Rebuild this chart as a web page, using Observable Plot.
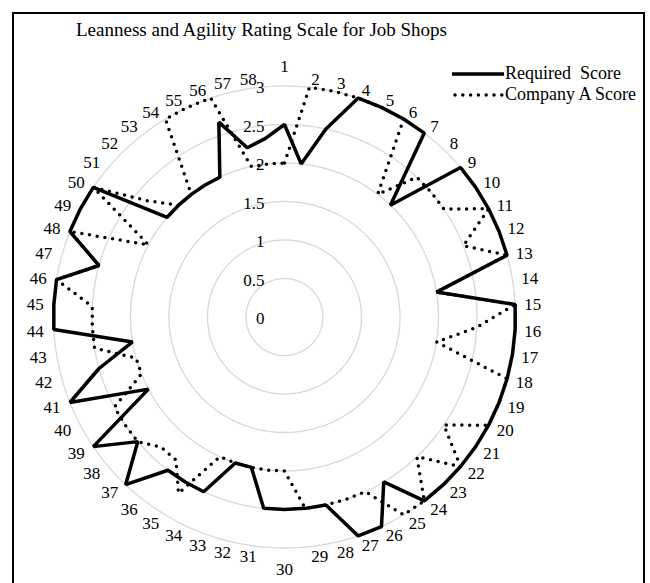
<!DOCTYPE html>
<html>
<head>
<meta charset="utf-8">
<script src="https://cdn.jsdelivr.net/npm/d3@7"></script>
<script src="https://cdn.jsdelivr.net/npm/@observablehq/plot@0.6"></script>
<style>
  html, body { margin: 0; padding: 0; background: #fff; }
  body { font-family: "Liberation Serif", "Times New Roman", serif; color: #000; }
  #wrap { position: relative; width: 650px; height: 583px; overflow: hidden; }
  #frame { position: absolute; left: 12px; top: 12px; width: 633px; height: 620px; border: 2.5px solid #000; box-sizing: border-box; }
  #title { position: absolute; left: 76px; top: 20px; font-size: 19px; line-height: 20px; white-space: nowrap; }
  #legend { position: absolute; left: 452px; top: 63px; font-size: 18px; line-height: 21px; }
  .row { display: flex; align-items: center; height: 21px; white-space: pre; }
  .row svg { width: 52px; height: 8px; margin-right: 1px; }
  #chart { position: absolute; left: 0; top: 0; }
</style>
</head>
<body>
<div id="wrap">
  <div id="frame"></div>
  <div id="chart"></div>
  <div id="title">Leanness and Agility Rating Scale for Job Shops</div>
  <div id="legend"></div>
</div>
<script>
const categories = ["1","2","3","4","5","6","7","8","9","10","11","12","13","14","15","16","17","18","19","20",
  "21","22","23","24","25","26","27","28","29","30","31","32","33","34","35","36","37","38","39","40",
  "41","42","43","44","45","46","47","48","49","50","51","52","53","54","55","56","57","58"];

const requiredScore = [2.5,2,2.5,3,3,3,3,2,3,3, 3,3,3,2,3,3,3,3,3,3,
  3,3,3,3,2.5,3,3,2.5,2.5,2.5, 2.5,2,2,2.5,2.5,2.5,3,2.5,3,2,
  3,2.5,2,3,3,3,2.5,3,3,3, 2,2,2,2,2,2.67,2.25,2.33];

const companyAScore = [2,3,3,3,3,3,2,2.5,2.5,2.5, 3,2.5,3,2,3,2.5,2,3,3,3,
  2.5,3,2.5,3,3,2.5,2.5,2.5,2.5,2, 2,2,2,2,2.67,2.33,2.33,2.5,2.5,2.5,
  2,2,2.5,2.5,2.5,3,2.5,3,2,3, 2.33,2,2,3,3,3,2,2];

const seriesNames = ["Required  Score", "Company A Score"];
const ringValues = [0.5, 1, 1.5, 2, 2.5, 3];
const axisLabels = [0, 0.5, 1, 1.5, 2, 2.5, 3];

const N = categories.length;
const DEG_PER_UNIT = 10;   // latitude degrees per score unit
const PX_PER_UNIT = 77;    // resulting pixels per score unit
const lon = i => 180 - i * 360 / N;
const lat = v => 90 - v * DEG_PER_UNIT;
const toRows = vals => vals.map((v, i) => ({i, v}));
const LABEL_R = 239 / PX_PER_UNIT;

const FS = 17;
const circle = r => d3.geoCircle().center([0, 90]).radius(r).precision(1)();

// label groups by position around the circle
const sinOf = i => Math.sin(i * 2 * Math.PI / N);
const cosOf = i => Math.cos(i * 2 * Math.PI / N);
const EPS = 1e-6;
const labelMark = (filter, opts) => Plot.text(categories, {
  x: (d, i) => lon(i), y: (d, i) => lat(LABEL_R), text: d => d,
  fontSize: FS, fill: "#000",
  filter: (d, i) => filter(i),
  ...opts
});

const chart = Plot.plot({
  width: 650,
  height: 583,
  marginLeft: 53,
  marginRight: 135,
  marginTop: 85.5,
  marginBottom: 35.5,
  projection: {
    type: "azimuthal-equidistant",
    rotate: [0, -90],
    domain: circle(3 * DEG_PER_UNIT),
    clip: false
  },
  style: {fontFamily: "'Liberation Serif', 'Times New Roman', serif", fontSize: FS + "px", background: "transparent", color: "#000"},
  marks: [
    Plot.geo(ringValues, {geometry: v => circle(v * DEG_PER_UNIT), stroke: "#d9d9d9", strokeWidth: 1.3, fill: "none"}),
    Plot.text(axisLabels, {x: d => 180, y: d => lat(d), text: d => String(d), textAnchor: "end", dx: -20, dy: 2, fontSize: FS, fill: "#000"}),
    Plot.line(toRows(requiredScore), {x: d => lon(d.i), y: d => lat(d.v), curve: "linear-closed", stroke: "#000", strokeWidth: 3.5, strokeLinejoin: "miter"}),
    Plot.line(toRows(companyAScore), {x: d => lon(d.i), y: d => lat(d.v), curve: "linear-closed", stroke: "#000", strokeWidth: 3.5, strokeDasharray: "0 7.8", strokeLinecap: "round"}),
    labelMark(i => sinOf(i) > EPS && cosOf(i) >= 0, {textAnchor: "start", dx: 1, dy: 0}),
    labelMark(i => sinOf(i) > EPS && cosOf(i) < 0, {textAnchor: "start", dx: 1, dy: 2}),
    labelMark(i => sinOf(i) < -EPS && cosOf(i) >= 0, {textAnchor: "end", dx: -2, dy: 0}),
    labelMark(i => sinOf(i) < -EPS && cosOf(i) < 0, {textAnchor: "end", dx: -2, dy: 2}),
    labelMark(i => Math.abs(sinOf(i)) <= EPS && cosOf(i) > 0, {textAnchor: "middle", dy: -11}),
    labelMark(i => Math.abs(sinOf(i)) <= EPS && cosOf(i) < 0, {textAnchor: "middle", dy: 14})
  ]
});
document.getElementById("chart").appendChild(chart);

const legend = document.getElementById("legend");
seriesNames.forEach((name, k) => {
  const row = document.createElement("div");
  row.className = "row";
  const dash = k === 0 ? "" : 'stroke-dasharray="0 7.8" stroke-linecap="round"';
  row.innerHTML = `<svg viewBox="0 0 52 8"><line x1="${k===0?0:3}" y1="4" x2="${k===0?52:50}" y2="4" stroke="#000" stroke-width="3.5" ${dash}/></svg><span>${name}</span>`;
  legend.appendChild(row);
});
</script>
</body>
</html>
